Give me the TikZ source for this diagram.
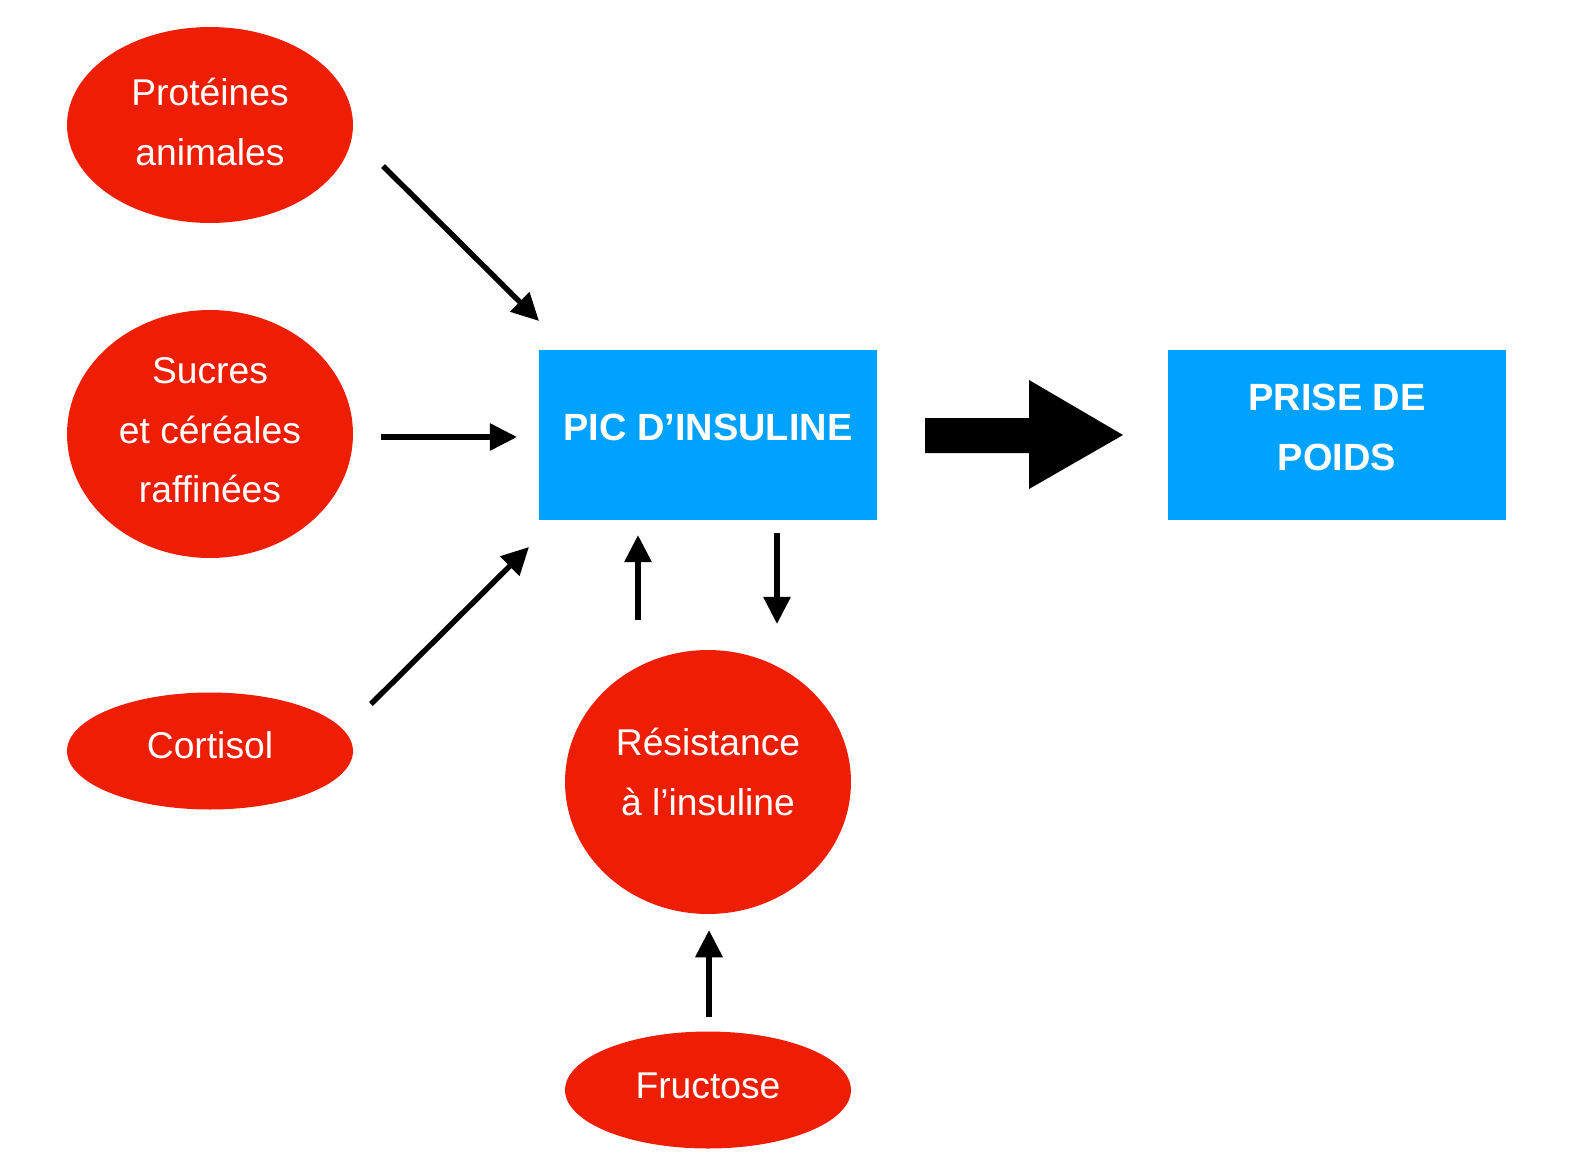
\documentclass[tikz,border=0pt]{standalone}
\usepackage{fontspec}
\setmainfont{Liberation Sans}
\usetikzlibrary{shapes.geometric,arrows.meta}
\definecolor{rouge}{RGB}{238,30,4}
\definecolor{bleu}{RGB}{0,162,255}
\begin{document}
\begin{tikzpicture}[
        x=0.02cm,y=-0.02cm,
        esty/.style={
            ellipse,fill=rouge,inner sep=0pt,
            minimum width=5.72cm,
            text=white,align=center,
            font=\fontsize{21.2}{34}\selectfont,
        },
        bsty/.style={
            rectangle,fill=bleu,inner sep=0pt,
            minimum width=6.78cm,minimum height=3.4cm,
            text=white,align=center,
            font=\fontsize{21.6}{34}\selectfont\bfseries,
        },
        asty/.style={
            line width=3.1pt,
            -{Triangle[length=15.5pt,width=15pt]},
        },
    ]
    \useasboundingbox (0,0) rectangle (1582,1164);

    \node[esty,minimum height=3.92cm,text depth=4pt] at (210,125) (prot) {Protéines\\animales};
    \node[esty,minimum height=4.96cm,text depth=4.5pt] at (210,434) (sucr) {Sucres\\et céréales\\raffinées};
    \node[esty,minimum height=2.34cm,text depth=6.5pt] at (210,751) (cort) {Cortisol};
    \node[esty,minimum height=5.28cm,text depth=11.5pt] at (708,782) (resi) {Résistance\\à l’insuline};
    \node[esty,minimum height=2.34cm,text depth=4.5pt] at (708,1090) (fruc) {Fructose};
    \node[bsty,text depth=9pt] at (708,435) (pic) {PIC D’INSULINE};
    \node[bsty,text depth=9pt] at (1337,435) (poids) {PRISE DE\\POIDS};

    % arrow ends
    \coordinate (p1) at (383,166);
    \coordinate (p2) at (539,321);
    \coordinate (s1) at (381,437);
    \coordinate (s2) at (517,437);
    \coordinate (c1) at (371,704);
    \coordinate (c2) at (529,547);
    \coordinate (r1) at (638,620);
    \coordinate (r2) at (638,535);
    \coordinate (i1) at (777,533);
    \coordinate (i2) at (777,624);
    \coordinate (f1) at (709,1017);
    \coordinate (f2) at (709,930);

    \draw[asty] (p1) -- (p2);
    \draw[asty] (s1) -- (s2);
    \draw[asty] (c1) -- (c2);
    \draw[asty] (r1) -- (r2);
    \draw[asty] (i1) -- (i2);
    \draw[asty] (f1) -- (f2);

    % big arrow
    \fill[black] (925,418) -- (1029,418) -- (1029,380) -- (1123,435)
        -- (1029,489) -- (1029,453) -- (925,453) -- cycle;

\end{tikzpicture}
\end{document}
